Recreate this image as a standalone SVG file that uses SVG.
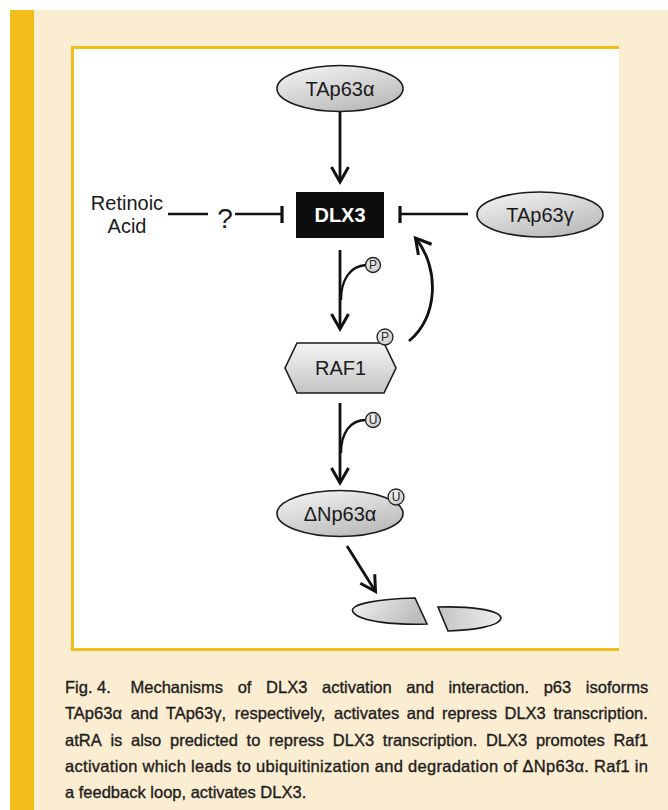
<svg xmlns="http://www.w3.org/2000/svg" width="668" height="810" viewBox="0 0 668 810">
<style>
.lbl{font-family:"Liberation Sans",Arial,sans-serif;font-size:20px;fill:#1a1a1a}
.bold{font-weight:bold;fill:#ffffff}
.cap{font-family:"Liberation Sans",Arial,sans-serif;font-size:16.5px;fill:#1f1c1c;stroke:#1f1c1c;stroke-width:0.35}
.node{stroke:#1a1a1a;stroke-width:1.6}
.ln{fill:none;stroke:#111;stroke-width:2.8}
.thin{fill:none;stroke:#111;stroke-width:2.3}
.bar{fill:none;stroke:#111;stroke-width:3.2}
.mod{fill:url(#gc);stroke:#222;stroke-width:1.3}
.modtxt{font-family:"Liberation Sans",Arial,sans-serif;font-size:12px;fill:#222}
</style>
<defs>
<linearGradient id="ge" x1="0" y1="0" x2="0.6" y2="1">
<stop offset="0" stop-color="#f6f6f6"/><stop offset="1" stop-color="#bcbcbc"/>
</linearGradient>
<linearGradient id="gh" x1="0" y1="0" x2="0" y2="1">
<stop offset="0" stop-color="#f4f4f4"/><stop offset="1" stop-color="#c4c4c4"/>
</linearGradient>
<linearGradient id="gl" x1="0" y1="0" x2="1" y2="0.3">
<stop offset="0" stop-color="#f2f2f2"/><stop offset="1" stop-color="#bdbdbd"/>
</linearGradient>
<linearGradient id="gr" x1="0" y1="0" x2="1" y2="0">
<stop offset="0" stop-color="#c2c2c2"/><stop offset="1" stop-color="#f0f0f0"/>
</linearGradient>
<radialGradient id="gc" cx="0.4" cy="0.35" r="0.7">
<stop offset="0" stop-color="#f4f4f4"/><stop offset="1" stop-color="#c6c6c6"/>
</radialGradient>
<marker id="ah" viewBox="-18 -10 22 20" refX="0" refY="0" markerWidth="22" markerHeight="20" markerUnits="userSpaceOnUse" orient="auto" overflow="visible">
<path d="M-15,-8.5 L0,0 L-15,8.5" fill="none" stroke="#111" stroke-width="3"/>
</marker>
</defs>

<!-- page background -->
<rect x="0" y="0" width="668" height="810" fill="#ffffff"/>
<rect x="34" y="10" width="634" height="800" fill="#faedd2"/>
<rect x="10" y="10" width="24" height="800" fill="#f1be1c"/>
<rect x="72.5" y="47.5" width="546.5" height="602" fill="#ffffff"/>
<path d="M619,47.5 H72.5 V649.5 H619" fill="none" stroke="#f1be1c" stroke-width="3"/>

<g id="connectors">
<line class="ln" x1="340" y1="112" x2="340" y2="182" marker-end="url(#ah)"/>
<line class="ln" x1="340" y1="250" x2="340" y2="329" marker-end="url(#ah)"/>
<line class="ln" x1="340" y1="403" x2="340" y2="483" marker-end="url(#ah)"/>
<line class="ln" x1="347" y1="546" x2="375.5" y2="591.5" marker-end="url(#ah)"/>
<path class="ln" d="M409,341 C438,318 440,268 415.5,238" marker-end="url(#ah)"/>
<line class="thin" x1="168" y1="214" x2="208" y2="214"/>
<text class="lbl" x="225" y="228" text-anchor="middle" style="font-size:28px">?</text>
<line class="thin" x1="235" y1="214" x2="282" y2="214"/>
<line class="bar" x1="282" y1="206" x2="282" y2="223"/>
<line class="thin" x1="400" y1="214" x2="468" y2="214"/>
<line class="bar" x1="400" y1="206" x2="400" y2="223"/>
<path class="thin" d="M341,300 C341,280 350,266 366,265"/>
<circle class="mod" cx="373" cy="265" r="7.5"/>
<text class="modtxt" x="373" y="269.3" text-anchor="middle">P</text>
<path class="thin" d="M341,453 C341,433 350,420 366,420"/>
<circle class="mod" cx="373" cy="420" r="7.5"/>
<text class="modtxt" x="373" y="424.3" text-anchor="middle">U</text>
</g>

<g id="node-tap63a">
<ellipse class="node" cx="340" cy="88.5" rx="63" ry="23" fill="url(#ge)"/>
<text class="lbl" x="340" y="95.5" text-anchor="middle">TAp63α</text>
</g>

<g id="node-dlx3">
<rect x="296" y="192" width="88" height="46" fill="#0d0d0d"/>
<text class="lbl bold" x="340" y="222" text-anchor="middle">DLX3</text>
</g>

<g id="node-retinoic">
<text class="lbl" x="127" y="210" text-anchor="middle">Retinoic</text>
<text class="lbl" x="127" y="233" text-anchor="middle">Acid</text>
</g>

<g id="node-tap63g">
<ellipse class="node" cx="540" cy="214.5" rx="63" ry="22.5" fill="url(#ge)"/>
<text class="lbl" x="540" y="221.5" text-anchor="middle">TAp63γ</text>
</g>

<g id="node-raf1">
<polygon class="node" points="285,368 297,343 384,343 396,368 384,393 297,393" fill="url(#gh)"/>
<text class="lbl" x="340.5" y="375" text-anchor="middle">RAF1</text>
<circle class="mod" cx="385" cy="337" r="8"/>
<text class="modtxt" x="385" y="341.3" text-anchor="middle">P</text>
</g>

<g id="node-dnp63a">
<ellipse class="node" cx="340" cy="513.5" rx="63" ry="23" fill="url(#ge)"/>
<text class="lbl" x="340" y="520.5" text-anchor="middle">ΔNp63α</text>
<circle class="mod" cx="396" cy="497" r="8"/>
<text class="modtxt" x="396" y="501.3" text-anchor="middle">U</text>
</g>

<g id="node-fragments">
<path class="node" d="M415,598 L427,624 C395,625 360,622 353,612 C348,604 378,599 415,598 Z" fill="url(#gl)"/>
<path class="node" d="M438,607 C470,606 500,610 501,618 C500,626 475,630 448,631 Z" fill="url(#gr)"/>
</g>

<g id="caption">
<text class="cap" y="693">
<tspan x="65">Fig. 4.</tspan><tspan x="130.5">Mechanisms</tspan><tspan x="237.7">of</tspan><tspan x="266.1">DLX3</tspan><tspan x="322">activation</tspan><tspan x="406.3">and</tspan><tspan x="448.4">interaction.</tspan><tspan x="543.7">p63</tspan><tspan x="585.8">isoforms</tspan>
</text>
<text class="cap" y="719">
<tspan x="65">TAp63α</tspan><tspan x="130.7">and</tspan><tspan x="165.8">TAp63γ,</tspan><tspan x="234.8">respectively,</tspan><tspan x="334.1">activates</tspan><tspan x="406.8">and</tspan><tspan x="441.9">repress</tspan><tspan x="504.5">DLX3</tspan><tspan x="553.4">transcription.</tspan>
</text>
<text class="cap" y="746">
<tspan x="65">atRA</tspan><tspan x="110.4">is</tspan><tspan x="131">also</tspan><tspan x="170">predicted</tspan><tspan x="246.6">to</tspan><tspan x="269.1">repress</tspan><tspan x="332.8">DLX3</tspan><tspan x="382.8">transcription.</tspan><tspan x="485.9">DLX3</tspan><tspan x="535.9">promotes</tspan><tspan x="613.4">Raf1</tspan>
</text>
<text class="cap" x="65" y="772" textLength="583" lengthAdjust="spacing">activation which leads to ubiquitinization and degradation of ΔNp63α. Raf1 in</text>
<text class="cap" x="65" y="798">a feedback loop, activates DLX3.</text>
</g>
</svg>
